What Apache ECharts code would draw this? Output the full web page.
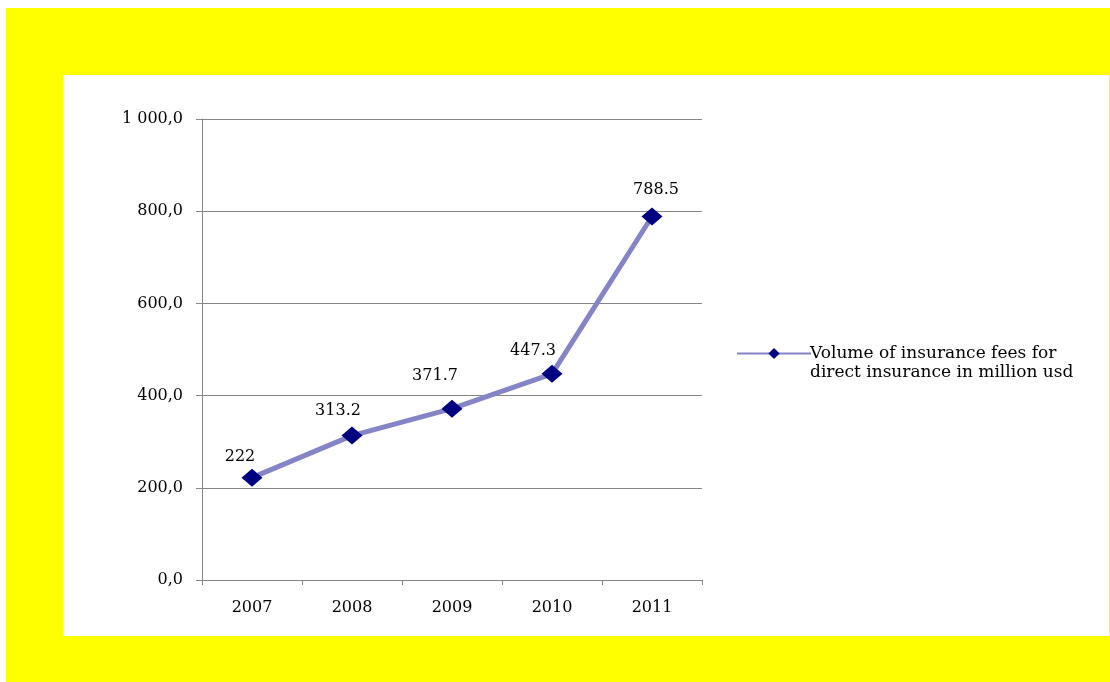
<!DOCTYPE html>
<html>
<head>
<meta charset="utf-8">
<script src="https://cdn.jsdelivr.net/npm/echarts@6/dist/echarts.min.js"></script>
<style>
  html, body { margin: 0; padding: 0; background: #fff; }
  #main { width: 1110px; height: 682px; }
</style>
</head>
<body>
<div id="main"></div>
<script>
// data
const years = ['2007', '2008', '2009', '2010', '2011'];
const fees = [222, 313.2, 371.7, 447.3, 788.5];
const valueLabels = ['222', '313.2', '371.7', '447.3', '788.5'];
const seriesName = 'Volume of insurance fees for';
const seriesName2 = 'direct insurance in million usd';

// label nudges (dx, dy of label centre from default top position)
const labelShift = [[-12, 1], [-14, -3], [-17, -11], [-19, -1], [4, -5]];

const font = '"DejaVu Serif", "Liberation Serif", serif';

const chart = echarts.init(document.getElementById('main'));

const option = {
    backgroundColor: '#fff',
    animation: false,
    graphic: [
        { type: 'rect', z: -10, silent: true, shape: { x: 6, y: 8, width: 1104, height: 674 }, style: { fill: '#ffff00' } },
        { type: 'rect', z: -9, silent: true, shape: { x: 63, y: 75, width: 1046, height: 561 }, style: { fill: '#ffffff' } },
        { type: 'text', left: 810, top: 364, style: { text: seriesName2, font: '17px ' + font, fill: '#000' } }
    ],
    grid: { left: 202, top: 119, right: 408, bottom: 102 },
    legend: {
        left: 731,
        top: 340,
        itemWidth: 74,
        itemHeight: 14,
        itemGap: 0,
        textStyle: { fontFamily: font, fontSize: 17, color: '#000', padding: [0, 0, 0, -6] },
        data: [seriesName]
    },
    xAxis: {
        type: 'category',
        data: years,
        boundaryGap: true,
        axisLine: { lineStyle: { color: '#868686', width: 1 } },
        axisTick: { show: true, length: 5, inside: false, lineStyle: { color: '#868686' } },
        axisLabel: { fontFamily: font, fontSize: 16, color: '#000', margin: 20 },
        splitLine: { show: false }
    },
    yAxis: {
        type: 'value',
        min: 0,
        max: 1000,
        interval: 200,
        axisLine: { show: true, lineStyle: { color: '#868686', width: 1 } },
        axisTick: { show: true, length: 6, lineStyle: { color: '#868686' } },
        axisLabel: {
            fontFamily: font, fontSize: 16, color: '#000', margin: 19,
            formatter: v => {
                const s = v.toFixed(1).replace('.', ',');
                return v >= 1000 ? s.replace(/^(\d)(\d{3})/, '$1 $2') : s;
            }
        },
        splitLine: { lineStyle: { color: '#868686', width: 1 } }
    },
    series: [{
        name: seriesName,
        type: 'line',
        data: fees.map((v, i) => ({
            value: v,
            label: { offset: labelShift[i] }
        })),
        symbol: 'diamond',
        symbolSize: [21, 18],
        itemStyle: { color: '#000080' },
        lineStyle: { color: '#8484c6', width: 5 },
        label: {
            show: true,
            position: 'top',
            fontFamily: font,
            fontSize: 16,
            color: '#000',
            formatter: p => valueLabels[p.dataIndex]
        }
    }]
};

chart.setOption(option);
window.addEventListener('resize', () => chart.resize());
</script>
</body>
</html>
